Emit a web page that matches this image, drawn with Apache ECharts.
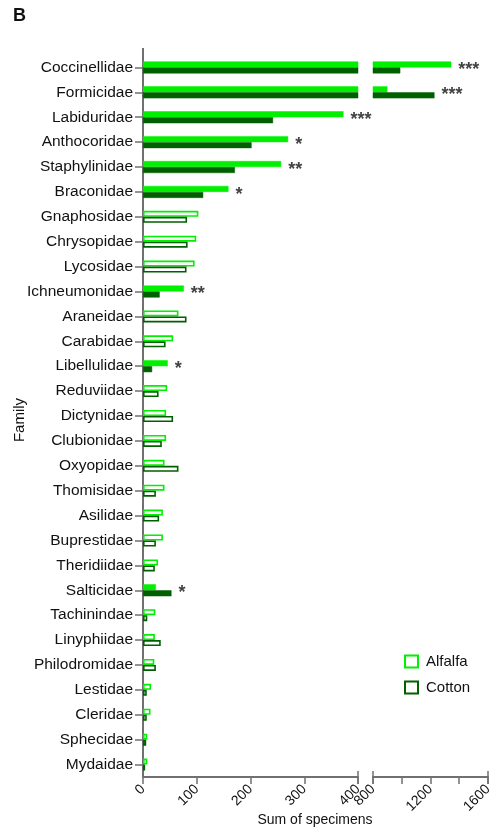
<!DOCTYPE html>
<html>
<head>
<meta charset="utf-8">
<script src="https://cdn.jsdelivr.net/npm/echarts@6/dist/echarts.min.js"></script>
<style>html,body{margin:0;padding:0;background:#fff}#c{width:495px;height:834px}</style>
</head>
<body>
<div id="c"></div>
<script>
var families = ['Coccinellidae','Formicidae','Labiduridae','Anthocoridae','Staphylinidae','Braconidae','Gnaphosidae','Chrysopidae','Lycosidae','Ichneumonidae','Araneidae','Carabidae','Libellulidae','Reduviidae','Dictynidae','Clubionidae','Oxyopidae','Thomisidae','Asilidae','Buprestidae','Theridiidae','Salticidae','Tachinindae','Linyphiidae','Philodromidae','Lestidae','Cleridae','Sphecidae','Mydaidae'];
var alfalfa = [1345,900,373,270,257,159,103,99,96,76,66,56,46,45,43,43,40,40,37,37,28,24,23,22,21,15,14,8,8];
var cotton  = [990,1228,242,202,171,112,82,83,81,31,81,42,17,29,56,35,66,24,30,24,22,53,8,33,24,7,7,6,4];
var stars   = ['***','***','***','*','**','*','','','','**','','','*','','','','','','','','','*','','','','','','',''];
var ticksLow = [0,100,200,300,400];
var ticksHigh = [800,1200,1600];

var GREEN = '#00f000', DARK = '#006000';
var BREAK = 800;

function item(v, sig, col, clip) {
  if (clip && v <= BREAK) return {value: null};
  return sig ? {value: v, itemStyle: {color: col, borderColor: col, borderWidth: 0.5}}
             : {value: v, itemStyle: {color: '#ffffff', borderColor: col, borderWidth: 1.6}};
}
function barSeries(name, vals, col, g, clip) {
  return {
    name: name, type: 'bar', xAxisIndex: g, yAxisIndex: g,
    barWidth: 6, barGap: '0%', clip: true,
    data: vals.map(function (v, i) { return item(v, stars[i] !== '', col, clip); }),
    animation: false
  };
}
function starSeries(g) {
  var d = [];
  families.forEach(function (f, i) {
    if (!stars[i]) return;
    var m = Math.max(alfalfa[i], cotton[i]);
    if ((g === 1) === (m > BREAK)) d.push({value: [m, i], label: {formatter: stars[i]}});
  });
  return {
    type: 'scatter', xAxisIndex: g, yAxisIndex: g, symbolSize: 0, silent: true,
    data: d, animation: false,
    label: {show: true, position: 'right', distance: 7, offset: [0, 3],
      fontFamily: 'Liberation Sans', fontSize: 18, fontWeight: 'bold', color: '#111'}
  };
}
var axisCol = '#707070';
var catAxis = function (g) {
  return {
    gridIndex: g, type: 'category', data: families, inverse: true, show: g === 0,
    axisLine: {show: g === 0, lineStyle: {color: axisCol, width: 2}},
    axisTick: {show: true, length: 8, alignWithLabel: true, lineStyle: {color: axisCol, width: 1.5}},
    axisLabel: {fontFamily: 'Liberation Sans', fontSize: 15.5, color: '#111', margin: 10}
  };
};
var valAxis = function (g) {
  var low = g === 0;
  return {
    gridIndex: g, type: 'value',
    min: low ? ticksLow[0] : ticksHigh[0],
    max: low ? ticksLow[ticksLow.length - 1] : ticksHigh[ticksHigh.length - 1],
    interval: low ? 100 : 200,
    splitLine: {show: false},
    axisLine: {show: true, lineStyle: {color: axisCol, width: 2}},
    axisTick: {show: true, length: 7, lineStyle: {color: axisCol, width: 1.5}},
    axisLabel: {rotate: 45, margin: 10, fontFamily: 'Liberation Sans', fontSize: 14, color: '#111',
      formatter: function (v) {
        var arr = low ? ticksLow : ticksHigh;
        return arr.indexOf(v) >= 0 ? String(v) : '';
      }}
  };
};

var lineStyle = {stroke: axisCol, lineWidth: 1.5};
var chart = echarts.init(document.getElementById('c'));
chart.setOption({
  backgroundColor: '#fff',
  animation: false,
  grid: [
    {left: 143, width: 215, top: 55, height: 722},
    {left: 373, width: 115, top: 55, height: 722}
  ],
  xAxis: [valAxis(0), valAxis(1)],
  yAxis: [catAxis(0), catAxis(1)],
  legend: {
    orient: 'vertical', left: 399, top: 649, itemWidth: 13, itemHeight: 12, itemGap: 11,
    textStyle: {fontFamily: 'Liberation Sans', fontSize: 15, color: '#111', padding: [0, 0, 0, 3]},
    data: [
      {name: 'Alfalfa', icon: 'rect', itemStyle: {color: '#fff', borderColor: GREEN, borderWidth: 2}},
      {name: 'Cotton', icon: 'rect', itemStyle: {color: '#fff', borderColor: DARK, borderWidth: 2}}
    ]
  },
  graphic: [
    {type: 'text', left: 13, top: 7, style: {text: 'B', fontFamily: 'Liberation Sans', fontWeight: 'bold', fontSize: 18, fill: '#111'}},
    {type: 'text', x: 315, y: 820, style: {text: 'Sum of specimens', fontFamily: 'Liberation Sans', fontSize: 14, fill: '#111', textAlign: 'center', textVerticalAlign: 'middle'}},
    {type: 'text', x: 20, y: 420, rotation: Math.PI / 2, style: {text: 'Family', fontFamily: 'Liberation Sans', fontSize: 15, fill: '#111', textAlign: 'center', textVerticalAlign: 'middle'}},
    {type: 'line', shape: {x1: 143, y1: 48, x2: 143, y2: 56}, style: {stroke: axisCol, lineWidth: 2}},
    {type: 'line', shape: {x1: 358, y1: 771, x2: 358, y2: 784}, style: lineStyle},
    {type: 'line', shape: {x1: 373, y1: 771, x2: 373, y2: 784}, style: lineStyle},
    {type: 'line', shape: {x1: 488, y1: 771, x2: 488, y2: 784}, style: lineStyle}
  ],
  series: [
    barSeries('Alfalfa', alfalfa, GREEN, 0, false),
    barSeries('Cotton', cotton, DARK, 0, false),
    barSeries('Alfalfa', alfalfa, GREEN, 1, true),
    barSeries('Cotton', cotton, DARK, 1, true),
    starSeries(0),
    starSeries(1)
  ]
});
</script>
</body>
</html>
